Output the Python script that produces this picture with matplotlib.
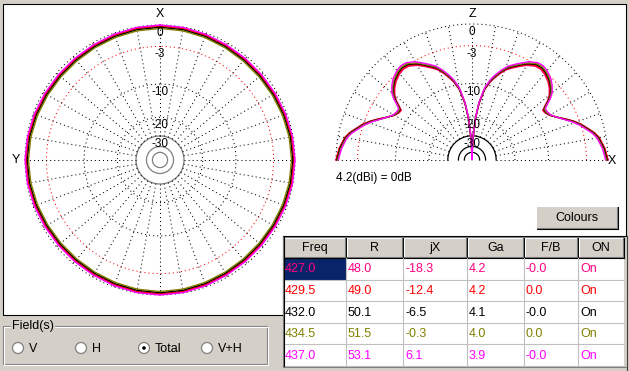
import numpy as np
import matplotlib
matplotlib.use("Agg")
import matplotlib.pyplot as plt
from matplotlib.patches import Rectangle, Circle, Polygon
from matplotlib import transforms

plt.rcParams['font.family'] = ['Liberation Sans', 'DejaVu Sans']
plt.rcParams['font.size'] = 8.5

# sweep table
freqs = [427.0, 429.5, 432.0, 434.5, 437.0]
res_r = [48.0, 49.0, 50.1, 51.5, 53.1]
react_jx = [-18.3, -12.4, -6.5, -0.3, 6.1]
gain_ga = [4.2, 4.2, 4.1, 4.0, 3.9]
fb_ratio = [-0.0, 0.0, -0.0, 0.0, -0.0]
on_state = ['On', 'On', 'On', 'On', 'On']
col_names = ['Freq', 'R', 'jX', 'Ga', 'F/B', 'ON']
trace_colors = ['#ff0080', '#ff0000', '#000000', '#808000', '#ff00ff']
max_gain_dbi = 4.2

# horizontal (azimuth) pattern, dB, every 10 deg
az_deg = list(range(0, 361, 10))
az_427 = [-0.1, -0.15, -0.25, -0.35, -0.4, -0.4, -0.35, -0.25, -0.15,
          -0.1, -0.15, -0.25, -0.35, -0.4, -0.4, -0.35, -0.25, -0.15,
          -0.1, -0.15, -0.25, -0.35, -0.4, -0.4, -0.35, -0.25, -0.15,
          -0.1, -0.15, -0.25, -0.35, -0.4, -0.4, -0.35, -0.25, -0.15, -0.1]
az_429 = [-0.15, -0.2, -0.3, -0.4, -0.45, -0.45, -0.4, -0.3, -0.2,
          -0.15, -0.2, -0.3, -0.4, -0.45, -0.45, -0.4, -0.3, -0.2,
          -0.15, -0.2, -0.3, -0.4, -0.45, -0.45, -0.4, -0.3, -0.2,
          -0.15, -0.2, -0.3, -0.4, -0.45, -0.45, -0.4, -0.3, -0.2, -0.15]
az_432 = [-0.3, -0.35, -0.45, -0.55, -0.6, -0.6, -0.55, -0.45, -0.35,
          -0.3, -0.35, -0.45, -0.55, -0.6, -0.6, -0.55, -0.45, -0.35,
          -0.3, -0.35, -0.45, -0.55, -0.6, -0.6, -0.55, -0.45, -0.35,
          -0.3, -0.35, -0.45, -0.55, -0.6, -0.6, -0.55, -0.45, -0.35, -0.3]
az_434 = [-0.45, -0.5, -0.6, -0.7, -0.75, -0.75, -0.7, -0.6, -0.5,
          -0.45, -0.5, -0.6, -0.7, -0.75, -0.75, -0.7, -0.6, -0.5,
          -0.45, -0.5, -0.6, -0.7, -0.75, -0.75, -0.7, -0.6, -0.5,
          -0.45, -0.5, -0.6, -0.7, -0.75, -0.75, -0.7, -0.6, -0.5, -0.45]
az_437 = [0.0, -0.05, -0.15, -0.25, -0.3, -0.3, -0.25, -0.15, -0.05,
          0.0, -0.05, -0.15, -0.25, -0.3, -0.3, -0.25, -0.15, -0.05,
          0.0, -0.05, -0.15, -0.25, -0.3, -0.3, -0.25, -0.15, -0.05,
          0.0, -0.05, -0.15, -0.25, -0.3, -0.3, -0.25, -0.15, -0.05, 0.0]

# vertical (elevation) pattern, dB, elevation from horizon (pattern is symmetric)
el_deg = [0, 5, 10, 12.5, 15, 18, 21, 24, 27, 30, 33, 35, 37, 38, 40, 43, 46,
          50, 53, 56, 60, 63, 66, 69, 72, 75, 77, 80, 83, 85, 86.5, 88, 90]
el_427 = [0.0, -0.35, -0.9, -1.4, -2.1, -2.9, -3.9, -5.1, -6.3, -7.3, -7.8, -7.9,
          -6.8, -6.1, -5.2, -4.4, -3.8, -3.3, -3.1, -3.2, -3.8, -4.5, -5.2, -5.9,
          -7.0, -8.3, -9.3, -11.3, -15.3, -20.3, -27.3, -36.3, -99.0]
el_429 = [0.0, -0.35, -0.9, -1.4, -2.1, -2.9, -3.9, -5.1, -6.3, -7.25, -7.7, -7.75,
          -6.65, -5.95, -5.05, -4.25, -3.65, -3.15, -2.95, -3.05, -3.65, -4.35, -5.05,
          -5.75, -6.85, -8.15, -9.15, -11.15, -15.15, -20.15, -27.1, -36.1, -99.0]
el_432 = [-0.1, -0.45, -1.0, -1.5, -2.2, -3.0, -4.0, -5.2, -6.3, -7.2, -7.6, -7.6,
          -6.5, -5.8, -4.9, -4.1, -3.5, -3.0, -2.8, -2.9, -3.5, -4.2, -4.9, -5.6,
          -6.7, -8.0, -9.0, -11.0, -15.0, -20.0, -27.0, -36.0, -99.0]
el_434 = [-0.2, -0.55, -1.1, -1.6, -2.3, -3.1, -4.1, -5.3, -6.3, -7.15, -7.5, -7.45,
          -6.35, -5.65, -4.75, -3.95, -3.35, -2.85, -2.65, -2.75, -3.35, -4.05, -4.75,
          -5.45, -6.55, -7.85, -8.85, -10.85, -14.85, -19.85, -26.9, -35.9, -99.0]
el_437 = [-0.3, -0.65, -1.2, -1.7, -2.4, -3.2, -4.2, -5.3, -6.3, -7.05, -7.3, -7.25,
          -6.15, -5.45, -4.55, -3.75, -3.15, -2.65, -2.45, -2.55, -3.15, -3.85, -4.55,
          -5.25, -6.35, -7.65, -8.65, -10.65, -14.7, -19.7, -26.8, -35.8, -99.0]

az_series = [az_427, az_429, az_432, az_434, az_437]
el_series = [el_427, el_429, el_432, el_434, el_437]
ring_db = [0, -3, -10, -20, -30]
field_opts = ['V', 'H', 'Total', 'V+H']
field_sel = 'Total'

FACE = '#d4d0c8'
W, H = 629, 371


def to_r(db):
    # MMANA style log scale
    return 10 ** (np.asarray(db, dtype=float) / 40.0)


def px_axes(cx, cy, rad):
    return [(cx - rad) / W, (H - cy - rad) / H, 2 * rad / W, 2 * rad / H]


def setup_polar(ax):
    ax.set_facecolor('none')
    ax.grid(False)
    ax.set_xticks([])
    ax.set_yticks([])
    ax.spines['polar'].set_visible(False)
    ax.set_ylim(0, 1)


def draw_grid(ax, span, inner_color, label_theta):
    th = np.radians(np.linspace(0, span, 721))
    dots = dict(lw=0.75, dashes=(1, 2.9), clip_on=False)
    for lvl in ring_db:
        r = to_r(lvl)
        if lvl == -30:
            ax.plot(th, np.full_like(th, r), color=inner_color, lw=0.9, clip_on=False)
        elif lvl == -3:
            ax.plot(th, np.full_like(th, r), color='red', **dots)
        else:
            ax.plot(th, np.full_like(th, r), color='black', **dots)
    for lvl in (-40, -50):
        ax.plot(th, np.full_like(th, to_r(lvl)), color=inner_color, lw=0.9, clip_on=False)
    stop = span + 1 if span < 360 else span
    for a in range(0, stop, 10):
        ax.plot([np.radians(a)] * 2, [to_r(-30), 1.0], color='black', **dots)
    off = transforms.offset_copy(ax.transData, fig=ax.figure, y=-2, units='dots')
    for lvl in ring_db:
        ax.text(label_theta, to_r(lvl), str(lvl), transform=off, ha='center', va='top',
                fontsize=8.5)


fig = plt.figure(figsize=(W / 100, H / 100), dpi=100, facecolor=FACE)
bg = fig.add_axes([0, 0, 1, 1])
bg.set_xlim(0, W)
bg.set_ylim(H, 0)
bg.axis('off')

# white plot area
bg.add_patch(Polygon([(3, 4), (626, 4), (626, 236), (283, 236), (283, 315), (3, 315)],
                     closed=True, fc='white', ec='black', lw=0.8))

# azimuth plot
axl = fig.add_axes(px_axes(160, 160, 135), projection='polar')
setup_polar(axl)
axl.set_theta_zero_location('N')
draw_grid(axl, 360, '#808080', 0.0)
th_az = np.radians(az_deg)
for vals, c in zip(az_series, trace_colors):
    axl.plot(th_az, to_r(vals), color=c, lw=1.0, clip_on=False)
bg.text(160, 14, 'X', ha='center', va='center', fontsize=9)
bg.text(16, 160, 'Y', ha='center', va='center', fontsize=9)

# elevation plot
axr = fig.add_axes(px_axes(472, 160, 136), projection='polar')
setup_polar(axr)
axr.set_theta_zero_location('E')
draw_grid(axr, 180, 'black', np.pi / 2)
el = np.array(el_deg)
th_el = np.radians(np.concatenate([el, 180 - el[::-1]]))
for vals, c in zip(el_series, trace_colors):
    v = np.array(vals)
    axr.plot(th_el, to_r(np.concatenate([v, v[::-1]])), color=c, lw=1.0, clip_on=False)
bg.text(472, 14, 'Z', ha='center', va='center', fontsize=9)
bg.text(612, 161, 'X', ha='center', va='center', fontsize=9)
bg.text(336, 178, f'{max_gain_dbi:.1f}(dBi) = 0dB', ha='left', va='center', fontsize=8.5)

# Colours button
bx, by, bw, bh = 536, 206, 82, 23
bg.add_patch(Rectangle((bx, by), bw, bh, fc=FACE, ec='none'))
bg.plot([bx, bx + bw, bx + bw], [by + bh, by + bh, by], color='black', lw=0.8)
bg.plot([bx + 1, bx + bw - 1, bx + bw - 1], [by + bh - 1, by + bh - 1, by + 1], color='#808080', lw=0.8)
bg.plot([bx, bx, bx + bw], [by + bh, by, by], color='white', lw=0.8)
bg.text(bx + bw / 2, by + bh / 2 + 0.5, 'Colours', ha='center', va='center', fontsize=9)

# table
col_edges = [283, 346, 403, 467, 524, 578, 624]
hdr_top, hdr_bot = 237, 258
row_h = 21.6
tab_bot = hdr_bot + row_h * len(freqs)
bg.add_patch(Rectangle((283, hdr_top), 341, tab_bot - hdr_top, fc='white', ec='none'))
for i, name in enumerate(col_names):
    x0, x1 = col_edges[i], col_edges[i + 1]
    bg.add_patch(Rectangle((x0, hdr_top), x1 - x0, hdr_bot - hdr_top, fc=FACE, ec='none'))
    bg.plot([x0 + 1, x0 + 1, x1 - 1], [hdr_bot - 1, hdr_top + 1, hdr_top + 1], color='white', lw=0.8)
    bg.plot([x0 + 1, x1 - 1, x1 - 1], [hdr_bot - 1, hdr_bot - 1, hdr_top + 1], color='#808080', lw=0.8)
    bg.plot([x1, x1], [hdr_top, hdr_bot], color='black', lw=0.8)
    bg.text((x0 + x1) / 2, (hdr_top + hdr_bot) / 2 + 0.5, name, ha='center', va='center', fontsize=9)
bg.plot([283, 624], [hdr_bot, hdr_bot], color='black', lw=0.8)

for r in range(len(freqs)):
    y0 = hdr_bot + r * row_h
    cells = [f'{freqs[r]:.1f}', f'{res_r[r]:.1f}', f'{react_jx[r]:.1f}',
             f'{gain_ga[r]:.1f}', f'{fb_ratio[r]:.1f}', on_state[r]]
    for i, txt in enumerate(cells):
        x0, x1 = col_edges[i], col_edges[i + 1]
        if r == 0 and i == 0:
            bg.add_patch(Rectangle((x0, y0), x1 - x0, row_h, fc='#0a246a', ec='none'))
        bg.text(x0 + 2, y0 + row_h / 2 + 0.5, txt, ha='left', va='center',
                color=trace_colors[r], fontsize=9)
    bg.plot([283, 624], [y0 + row_h, y0 + row_h], color='#c0c0c0', lw=0.8)
for x in col_edges[1:-1]:
    bg.plot([x, x], [hdr_bot, tab_bot], color='#c0c0c0', lw=0.8)
bg.plot([283, 283, 624], [tab_bot + 1, hdr_top, hdr_top], color='#808080', lw=0.8)
bg.plot([284, 284], [hdr_top, tab_bot], color='black', lw=0.8)
bg.plot([283, 626], [tab_bot + 1, tab_bot + 1], color='#808080', lw=0.8)
bg.plot([627, 627], [236, H], color='#404040', lw=0.8)

# Field(s) group box
gx0, gy0, gx1, gy1 = 3, 326, 267, 364
bg.add_patch(Rectangle((gx0, gy0), gx1 - gx0, gy1 - gy0, fc='none', ec='#808080', lw=0.8))
bg.add_patch(Rectangle((gx0 + 1, gy0 + 1), gx1 - gx0, gy1 - gy0, fc='none', ec='white', lw=0.8))
bg.text(12, 326, 'Field(s)', ha='left', va='center', fontsize=9,
        bbox=dict(fc=FACE, ec='none', pad=1))
for k, opt in enumerate(field_opts):
    cx = 18 + 63 * k
    bg.add_patch(Circle((cx, 348), 5.5, fc='white', ec='#808080', lw=0.9))
    if opt == field_sel:
        bg.add_patch(Circle((cx, 348), 1.8, fc='black', ec='none'))
    bg.text(cx + 11, 348.5, opt, ha='left', va='center', fontsize=9)

fig.savefig('out.png', dpi=100, facecolor=FACE)
